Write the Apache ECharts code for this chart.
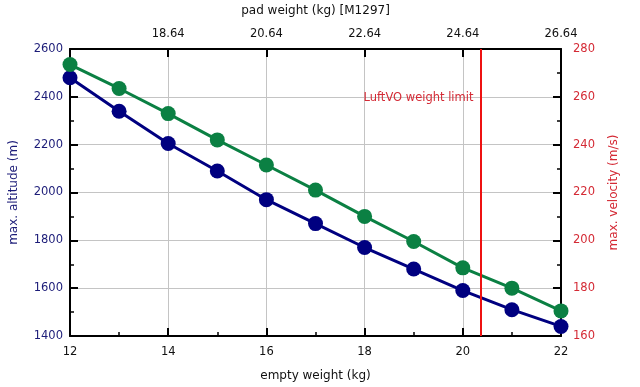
<!DOCTYPE html>
<html>
<head>
<meta charset="utf-8">
<script src="https://cdn.jsdelivr.net/npm/echarts@6/dist/echarts.min.js"></script>
<style>html,body{margin:0;padding:0;background:#fff}#c{width:640px;height:387px}</style>
</head>
<body>
<div id="c"></div>
<script>
const emptyWeight = [12, 13, 14, 15, 16, 17, 18, 19, 20, 21, 22];
const maxAltitude = [2480, 2340, 2205, 2090, 1970, 1870, 1770, 1680, 1590, 1510, 1440];
const maxVelocity = [273.5, 263.5, 253, 242, 231.5, 221, 210, 199.5, 188.5, 180, 170.5];
const padOffset = 4.64;
const weightLimitEmpty = 20.36;
const limitLabel = 'LuftVO weight limit';

const FONT = 'DejaVu Sans';
const NAVY = '#000080';
const GREEN = '#0b8043';
const RED = '#ee1111';
const RED_TXT = '#d42a35';
const NAVY_TXT = '#1c1c78';

const chart = echarts.init(document.getElementById('c'), null, {renderer: 'canvas'});
const axisLine = {show: true, onZero: false, lineStyle: {color: '#000', width: 2}};
const tick = {show: true, inside: true, length: 8, lineStyle: {color: '#000', width: 2}};
const minor = {show: true, splitNumber: 2, length: 4, lineStyle: {color: '#000', width: 1.5}};
const plain = v => String(v);

chart.setOption({
  animation: false,
  backgroundColor: '#fff',
  textStyle: {fontFamily: FONT},
  grid: {left: 68, right: 79, top: 48, bottom: 51, containLabel: false},
  xAxis: [
    {
      type: 'value', position: 'bottom', min: 12, max: 22, interval: 2,
      name: 'empty weight (kg)', nameLocation: 'middle', nameGap: 34,
      nameTextStyle: {color: '#111', fontSize: 12, fontFamily: FONT},
      axisLine: axisLine, axisTick: tick, minorTick: minor,
      axisLabel: {color: '#111', fontSize: 11.5, fontFamily: FONT, margin: 10, formatter: plain},
      splitLine: {show: true, lineStyle: {color: '#c4c4c4', width: 1}}
    },
    {
      type: 'value', position: 'top', min: 12, max: 22, interval: 2,
      name: 'pad weight (kg) [M1297]', nameLocation: 'middle', nameGap: 32,
      nameTextStyle: {color: '#111', fontSize: 12, fontFamily: FONT},
      axisLine: axisLine, axisTick: tick,
      axisLabel: {color: '#111', fontSize: 11.5, fontFamily: FONT, margin: 9, showMinLabel: false,
        formatter: v => (v + padOffset).toFixed(2)},
      splitLine: {show: false}
    }
  ],
  yAxis: [
    {
      type: 'value', position: 'left', min: 1400, max: 2600, interval: 200,
      name: 'max. altitude (m)', nameLocation: 'middle', nameGap: 50,
      nameTextStyle: {color: NAVY_TXT, fontSize: 12, fontFamily: FONT},
      axisLine: axisLine, axisTick: tick, minorTick: minor,
      axisLabel: {color: NAVY_TXT, fontSize: 11.5, fontFamily: FONT, margin: 7, formatter: plain},
      splitLine: {show: true, lineStyle: {color: '#c4c4c4', width: 1}}
    },
    {
      type: 'value', position: 'right', min: 160, max: 280, interval: 20,
      name: 'max. velocity (m/s)', nameLocation: 'middle', nameGap: 47,
      nameTextStyle: {color: RED_TXT, fontSize: 12, fontFamily: FONT},
      axisLine: axisLine, axisTick: tick, minorTick: minor,
      axisLabel: {color: RED_TXT, fontSize: 11.5, fontFamily: FONT, margin: 12, formatter: plain},
      splitLine: {show: false}
    }
  ],
  series: [
    {
      type: 'line', xAxisIndex: 0, yAxisIndex: 0,
      data: emptyWeight.map((x, i) => [x, maxAltitude[i]]),
      symbol: 'circle', symbolSize: 15,
      lineStyle: {color: NAVY, width: 3}, itemStyle: {color: NAVY},
      markLine: {
        silent: true, symbol: 'none',
        lineStyle: {color: RED, width: 2, type: 'solid'},
        label: {show: false},
        data: [{xAxis: weightLimitEmpty}]
      },
      markPoint: {
        silent: true, symbol: 'circle', symbolSize: 0,
        label: {show: true, position: 'left', distance: 7, formatter: limitLabel,
          color: RED_TXT, fontSize: 11.5, fontFamily: FONT},
        data: [{coord: [weightLimitEmpty, 2396]}]
      }
    },
    {
      type: 'line', xAxisIndex: 0, yAxisIndex: 1,
      data: emptyWeight.map((x, i) => [x, maxVelocity[i]]),
      symbol: 'circle', symbolSize: 15,
      lineStyle: {color: GREEN, width: 3}, itemStyle: {color: GREEN}
    }
  ]
});
</script>
</body>
</html>
